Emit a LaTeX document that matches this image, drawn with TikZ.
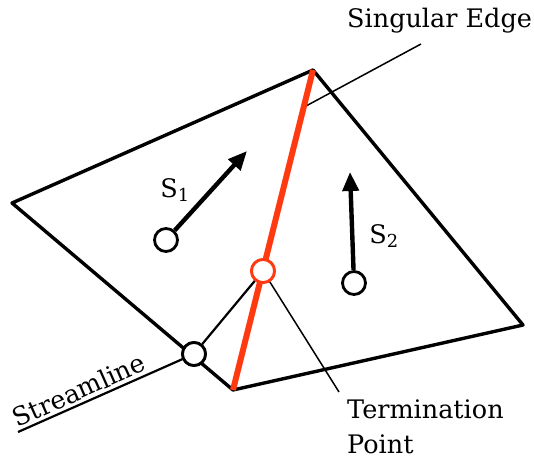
\documentclass[tikz,border=0pt]{standalone}
\usepackage{fontspec}
\setmainfont{DejaVu Serif}
\usetikzlibrary{arrows.meta}
\definecolor{edgered}{HTML}{FF3A10}
\tikzset{
  edgeline/.style={line width=3.4pt, line join=round},
  thin leader/.style={line width=1.5pt},
  vec/.style={line width=4.4pt, -{Triangle[length=19pt,width=16pt]}},
  pt/.style={circle, draw, line width=2.8pt, fill=white, minimum size=23pt, inner sep=0pt},
  lbl/.style={font=\fontsize{25.5}{30}\selectfont, inner sep=0pt},
}
\begin{document}
\begin{tikzpicture}[x=1pt,y=-1pt]
\useasboundingbox (0,0) rectangle (534,465);
% vertices
\coordinate (L) at (12,203);
\coordinate (T) at (313,70);
\coordinate (R) at (523,325);
\coordinate (B) at (233,390);
\draw[edgeline] (L) -- (T) -- (R) -- (B) -- cycle;
% singular edge leader
\coordinate (se1) at (306,106);
\coordinate (se2) at (421,44);
\draw[thin leader] (se1) -- (se2);
\node[lbl, anchor=west] (selbl) at (347,21) {Singular Edge};
% red singular edge
\draw[edgered, line width=6pt] (B) -- (T);
% streamline
\coordinate (sl) at (18,432);
\node[pt] (sp) at (194,354) {};
\node[pt, draw=edgered] (tp) at (263,271) {};
\draw[line width=2.2pt] (sl) -- (sp);
\draw[line width=2.2pt] (sp) -- (tp);
\node[lbl, rotate=24, anchor=south] (sllbl) at (83,399) {Streamline};
% termination leader
\coordinate (tl) at (339,392);
\draw[thin leader] (tp) -- (tl);
\node[lbl, anchor=west] (tlbl1) at (347,409) {Termination};
\node[lbl, anchor=west] (tlbl2) at (347,444) {Point};
% redraw circles on top
\node[pt] at (sp) {};
\node[pt, draw=edgered] at (tp) {};
% S1, S2
\node[pt] (s1) at (166,240) {};
\coordinate (s1h) at (247,151);
\draw[vec] (s1) -- (s1h);
\node[lbl] (s1lbl) at (175,190) {S\textsubscript{1}};
\node[pt] (s2) at (354,283) {};
\coordinate (s2h) at (350,172);
\draw[vec] (s2) -- (s2h);
\node[lbl] (s2lbl) at (384,236) {S\textsubscript{2}};
\end{tikzpicture}
\end{document}
